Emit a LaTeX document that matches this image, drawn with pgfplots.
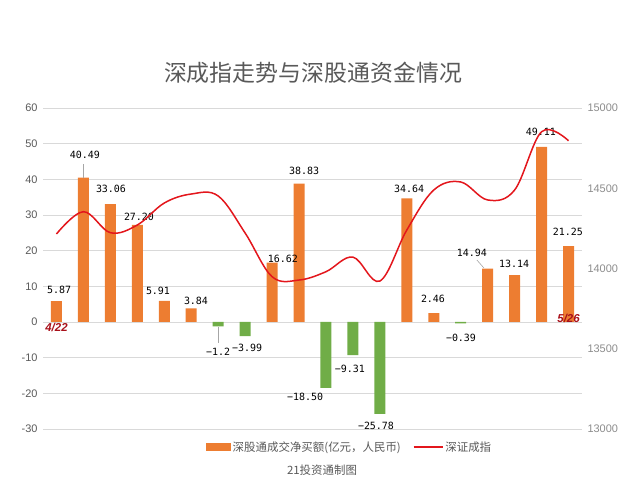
\documentclass[border=0pt]{standalone}
\usepackage{pgfplots}
\pgfplotsset{compat=1.18}
\usepackage{fontspec}
\setmainfont{Noto Sans CJK SC}
\newfontfamily\monof{DejaVu Sans Mono}
\newfontfamily\latf{Liberation Sans}
\definecolor{barorange}{HTML}{ED7D31}
\definecolor{bargreen}{HTML}{70AD47}
\definecolor{linered}{HTML}{E3161C}
\definecolor{txtgray}{HTML}{595959}
\definecolor{rtgray}{HTML}{8C8C8C}
\definecolor{gridgray}{HTML}{D9D9D9}
\definecolor{datered}{HTML}{A8101A}
\definecolor{leadgray}{HTML}{A6A6A6}
\begin{document}
\begin{tikzpicture}
\path[use as bounding box] (0,0) rectangle (630bp,487bp);
\node[text=txtgray, font=\fontsize{23}{26}\selectfont] at (313bp,414bp) {深成指走势与深股通资金情况};
\node[text=txtgray, font=\fontsize{11.5}{13}\selectfont] at (322bp,17bp) {21投资通制图};
\begin{axis}[
  at={(43bp,58bp)}, anchor=south west,
  scale only axis, width=539bp, height=321bp,
  xmin=-0.5, xmax=19.5, ymin=-30, ymax=60,
  ytick={-30,-20,...,60},
  xtick=\empty,
  ymajorgrids, grid style={gridgray, line width=0.8bp},
  axis line style={draw=none},
  major tick length=0pt,
  /pgf/number format/assume math mode=true,
  yticklabel style={font=\latf\fontsize{11}{13}\selectfont, text=txtgray, xshift=-2bp},
  clip=false,
  legend style={at={(0.296,-0.056)}, anchor=west, draw=none, fill=none,
    legend columns=2, font=\fontsize{11.5}{13}\selectfont, text=txtgray,
    /tikz/every even column/.append style={column sep=10bp}},
]
\addplot[ybar, bar width=11bp, bar shift=0pt, fill=barorange, draw=none,
  legend image code/.code={\fill[barorange] (0bp,-4bp) rectangle (25bp,4bp);}]
  coordinates {(0,5.87) (1,40.49) (2,33.06) (3,27.20) (4,5.91) (5,3.84)
  (8,16.62) (9,38.83) (13,34.64) (14,2.46) (16,14.94) (17,13.14) (18,49.11) (19,21.25)};
\addlegendentry{深股通成交净买额(亿元，人民币)}
\addplot[ybar, bar width=11bp, bar shift=0pt, fill=bargreen, draw=none, forget plot]
  coordinates {(6,-1.2) (7,-3.99) (10,-18.50) (11,-9.31) (12,-25.78) (15,-0.39)};
\addlegendimage{legend image code/.code={\draw[linered, line width=1.5bp] (0bp,0bp) -- (29bp,0bp);}}
\addlegendentry{深证成指}
% leader lines
\draw[leadgray, line width=0.6bp] (axis cs:1,40.49) -- (axis cs:1,44.3);
\draw[leadgray, line width=0.6bp] (axis cs:6,-1.4) -- (axis cs:6,-5.9);
\draw[leadgray, line width=0.6bp] (axis cs:15.60,17.38) -- (axis cs:15.86,15.14);
% data labels
\begin{scope}[every node/.style={font=\monof\fontsize{10}{12}\selectfont, text=black, inner sep=0pt}]
\node at (axis cs:0.094,8.97) {5.87};
\node at (axis cs:1.058,46.82) {40.49};
\node at (axis cs:2.023,37.29) {33.06};
\node at (axis cs:3.062,29.44) {27.20};
\node at (axis cs:3.767,8.69) {5.91};
\node at (axis cs:5.177,5.89) {3.84};
\node at (axis cs:5.994,-8.41) {−1.2};
\node at (axis cs:7.070,-7.29) {−3.99};
\node at (axis cs:8.405,17.66) {16.62};
\node at (axis cs:9.185,42.33) {38.83};
\node at (axis cs:9.222,-21.03) {−18.50};
\node at (axis cs:10.891,-13.18) {−9.31};
\node at (axis cs:11.856,-29.16) {−25.78};
\node at (axis cs:13.081,37.29) {34.64};
\node at (axis cs:13.971,6.45) {2.46};
\node at (axis cs:15.010,-4.49) {−0.39};
\node at (axis cs:15.418,19.34) {14.94};
\node at (axis cs:16.977,16.26) {13.14};
\node at (axis cs:17.978,53.27) {49.11};
\node at (axis cs:18.980,25.23) {21.25};
\end{scope}
\node[font=\latf\bfseries\itshape\fontsize{11.5}{13}\selectfont, text=datered] at (axis cs:0.0,-1.4) {4/22};
\node[font=\latf\bfseries\itshape\fontsize{11.5}{13}\selectfont, text=datered] at (axis cs:19.0,1.12) {5/26};
\end{axis}
\begin{axis}[
  at={(43bp,58bp)}, anchor=south west,
  scale only axis, width=539bp, height=321bp,
  xmin=-0.5, xmax=19.5, ymin=13000, ymax=15000,
  ytick={13000,13500,...,15000},
  scaled y ticks=false,
  xtick=\empty,
  axis y line*=right, axis x line=none,
  axis line style={draw=none},
  major tick length=0pt,
  /pgf/number format/assume math mode=true,
  /pgf/number format/1000 sep={},
  yticklabel style={font=\latf\fontsize{11}{13}\selectfont, text=rtgray, xshift=2bp},
  clip=false,
]
\addplot[linered, line width=1.5bp, smooth, tension=0.6, mark=none]
  coordinates {(0,14215) (1,14354) (2,14223) (3,14271) (4,14408) (5,14464)
  (6,14452) (7,14221) (8,13949) (9,13928) (10,13980) (11,14071) (12,13922)
  (13,14240) (14,14489) (15,14539) (16,14427) (17,14489) (18,14852) (19,14796)};
\end{axis}
\end{tikzpicture}
\end{document}
